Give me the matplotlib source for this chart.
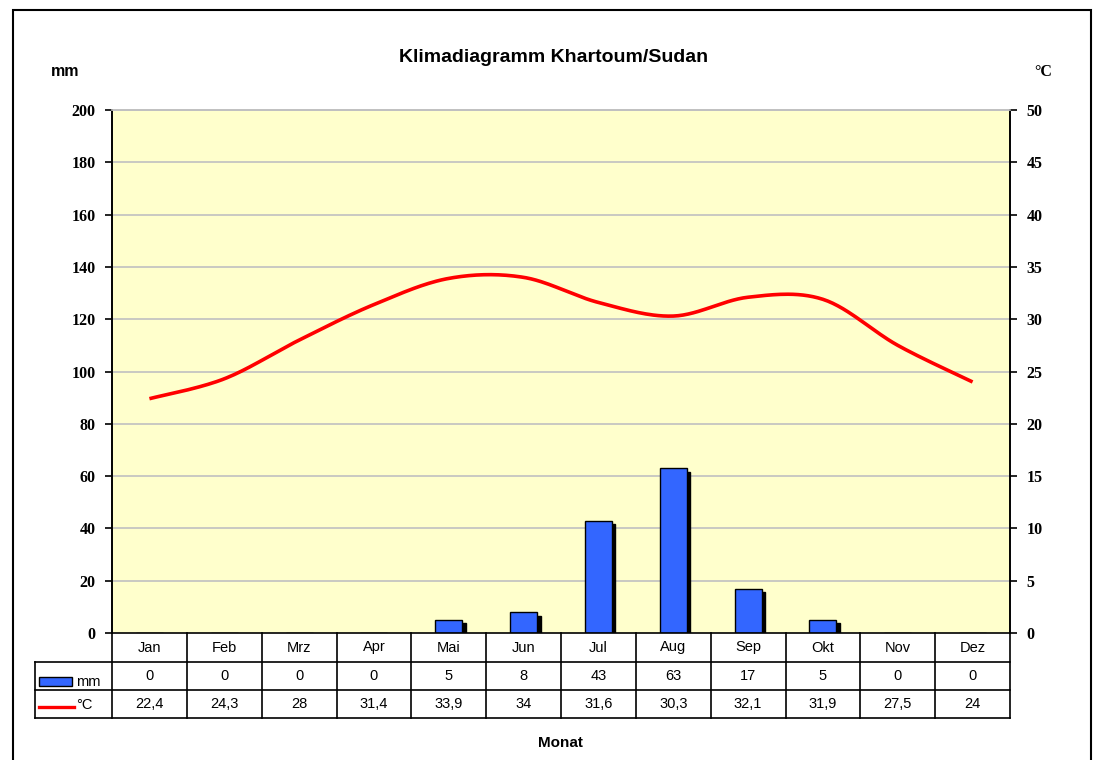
import numpy as np
import matplotlib
matplotlib.use("Agg")
import matplotlib.pyplot as plt
from matplotlib.patches import Rectangle
from matplotlib.lines import Line2D
from matplotlib.transforms import offset_copy

months = ["Jan", "Feb", "Mrz", "Apr", "Mai", "Jun", "Jul", "Aug", "Sep", "Okt", "Nov", "Dez"]
precip_mm = [0, 0, 0, 0, 5, 8, 43, 63, 17, 5, 0, 0]
temp_c = [22.4, 24.3, 28, 31.4, 33.9, 34, 31.6, 30.3, 32.1, 31.9, 27.5, 24]
mm_ticks = [0, 20, 40, 60, 80, 100, 120, 140, 160, 180, 200]
c_ticks = [0, 5, 10, 15, 20, 25, 30, 35, 40, 45, 50]

BAR_COL = "#3366ff"
BG_COL = "#ffffcc"
GRID_COL = "#c0c0c0"
W, H = 1097, 760


def fx(px):
    return px / W


def fy(py):
    return 1 - py / H


def smooth(xs, ys, n=30):
    # excel-like smoothed line: bezier segments w/ catmull-rom tangents
    xs = np.asarray(xs, float)
    ys = np.asarray(ys, float)
    ox, oy = [], []
    k = len(xs)
    for i in range(k - 1):
        p0 = (xs[max(i - 1, 0)], ys[max(i - 1, 0)])
        p1 = (xs[i], ys[i])
        p2 = (xs[i + 1], ys[i + 1])
        p3 = (xs[min(i + 2, k - 1)], ys[min(i + 2, k - 1)])
        c1 = (p1[0] + (p2[0] - p0[0]) / 6, p1[1] + (p2[1] - p0[1]) / 6)
        c2 = (p2[0] - (p3[0] - p1[0]) / 6, p2[1] - (p3[1] - p1[1]) / 6)
        t = np.linspace(0, 1, n, endpoint=(i == k - 2))
        b0 = (1 - t) ** 3
        b1 = 3 * (1 - t) ** 2 * t
        b2 = 3 * (1 - t) * t ** 2
        b3 = t ** 3
        ox.extend(b0 * p1[0] + b1 * c1[0] + b2 * c2[0] + b3 * p2[0])
        oy.extend(b0 * p1[1] + b1 * c1[1] + b2 * c2[1] + b3 * p2[1])
    return np.array(ox), np.array(oy)


fig = plt.figure(figsize=(W / 100, H / 100), dpi=100)
fig.patch.set_facecolor("white")

# outer frame
fig.patches.append(Rectangle((fx(13), -0.05), fx(1091) - fx(13), fy(10) + 0.05,
                             transform=fig.transFigure, fill=False,
                             edgecolor="black", lw=1.5))

left, right, top, bot = 112, 1010, 110, 633
ax = fig.add_axes([fx(left), fy(bot), fx(right) - fx(left), fy(top) - fy(bot)])
ax.set_facecolor(BG_COL)
x = np.arange(len(months))
ax.set_xlim(-0.5, len(months) - 0.5)
ax.set_ylim(0, 200)

for v in mm_ticks[1:]:
    ax.axhline(v, color=GRID_COL, lw=1.2, zorder=1)

# bars w/ black drop shadow
shadow_tr = offset_copy(ax.transData, fig=fig, x=3.5, y=-3.5, units="dots")
ax.bar(x, precip_mm, width=0.36, color="black", edgecolor="black",
       transform=shadow_tr, zorder=2)
ax.bar(x, precip_mm, width=0.36, color=BAR_COL, edgecolor="black",
       lw=1.0, zorder=3)

ax2 = ax.twinx()
ax2.set_ylim(0, 50)
sx, sy = smooth(x, temp_c)
ax2.plot(sx, sy, color="#ff0000", lw=2.6, solid_capstyle="butt", zorder=4)

for a in (ax, ax2):
    a.spines["top"].set_color(GRID_COL)
    a.spines["top"].set_linewidth(1.2)
    a.spines["bottom"].set_visible(False)
    a.spines["left"].set_linewidth(1.2)
    a.spines["right"].set_linewidth(1.2)
ax.set_xticks([])
ax.set_yticks(mm_ticks)
ax.set_yticklabels([str(v) for v in mm_ticks])
ax2.set_yticks(c_ticks)
ax2.set_yticklabels([str(v) for v in c_ticks])
for a in (ax, ax2):
    a.tick_params(axis="y", length=5, width=1.2, pad=7)
    for lab in a.get_yticklabels():
        lab.set_fontfamily("Liberation Serif")
        lab.set_fontweight("bold")
        lab.set_fontsize(11.5)

# title + axis unit labels
fig.text(fx(554), fy(57), "Klimadiagramm Khartoum/Sudan", ha="center", va="center",
         fontsize=14, fontweight="bold", family="Liberation Sans")
fig.text(fx(65), fy(72), "mm", ha="center", va="center", fontsize=11.5,
         fontweight="bold", family="Liberation Sans")
fig.text(fx(1043), fy(72), "°C", ha="center", va="center", fontsize=11.5,
         fontweight="bold", family="Liberation Serif")
fig.text(fx(560), fy(743), "Monat", ha="center", va="center", fontsize=11,
         fontweight="bold", family="Liberation Sans")

# data table under the chart
rows_y = [633, 662, 690, 718]
tbl_left = 35
col_w = (right - left) / len(months)
lc = "black"
tl = 1.2
for yy in rows_y:
    x0 = left if yy == rows_y[0] else tbl_left
    fig.add_artist(Line2D([fx(x0), fx(right)], [fy(yy), fy(yy)], color=lc, lw=tl))
for i in range(len(months) + 1):
    xx = left + i * col_w
    fig.add_artist(Line2D([fx(xx), fx(xx)], [fy(rows_y[0]), fy(rows_y[-1])], color=lc, lw=tl))
fig.add_artist(Line2D([fx(tbl_left), fx(tbl_left)], [fy(rows_y[1]), fy(rows_y[-1])], color=lc, lw=tl))

row_vals = [months, [str(v) for v in precip_mm],
            [str(v).replace(".", ",") for v in temp_c]]
for r, vals in enumerate(row_vals):
    cy = (rows_y[r] + rows_y[r + 1]) / 2
    for i, s in enumerate(vals):
        cx = left + (i + 0.5) * col_w
        fig.text(fx(cx), fy(cy), s, ha="center", va="center", fontsize=10.5,
                 family="Liberation Sans")

# legend keys in the table
fig.patches.append(Rectangle((fx(39), fy(686)), fx(72) - fx(39), fy(677) - fy(686),
                             transform=fig.transFigure, facecolor=BAR_COL,
                             edgecolor="black", lw=1.0))
fig.text(fx(76), fy(682), "mm", ha="left", va="center", fontsize=10.5, family="Liberation Sans")
fig.add_artist(Line2D([fx(39), fx(74)], [fy(707), fy(707)], color="#ff0000", lw=2.4))
fig.text(fx(76), fy(705), "°C", ha="left", va="center", fontsize=10.5, family="Liberation Sans")

fig.savefig("out.png", dpi=100, facecolor="white")
